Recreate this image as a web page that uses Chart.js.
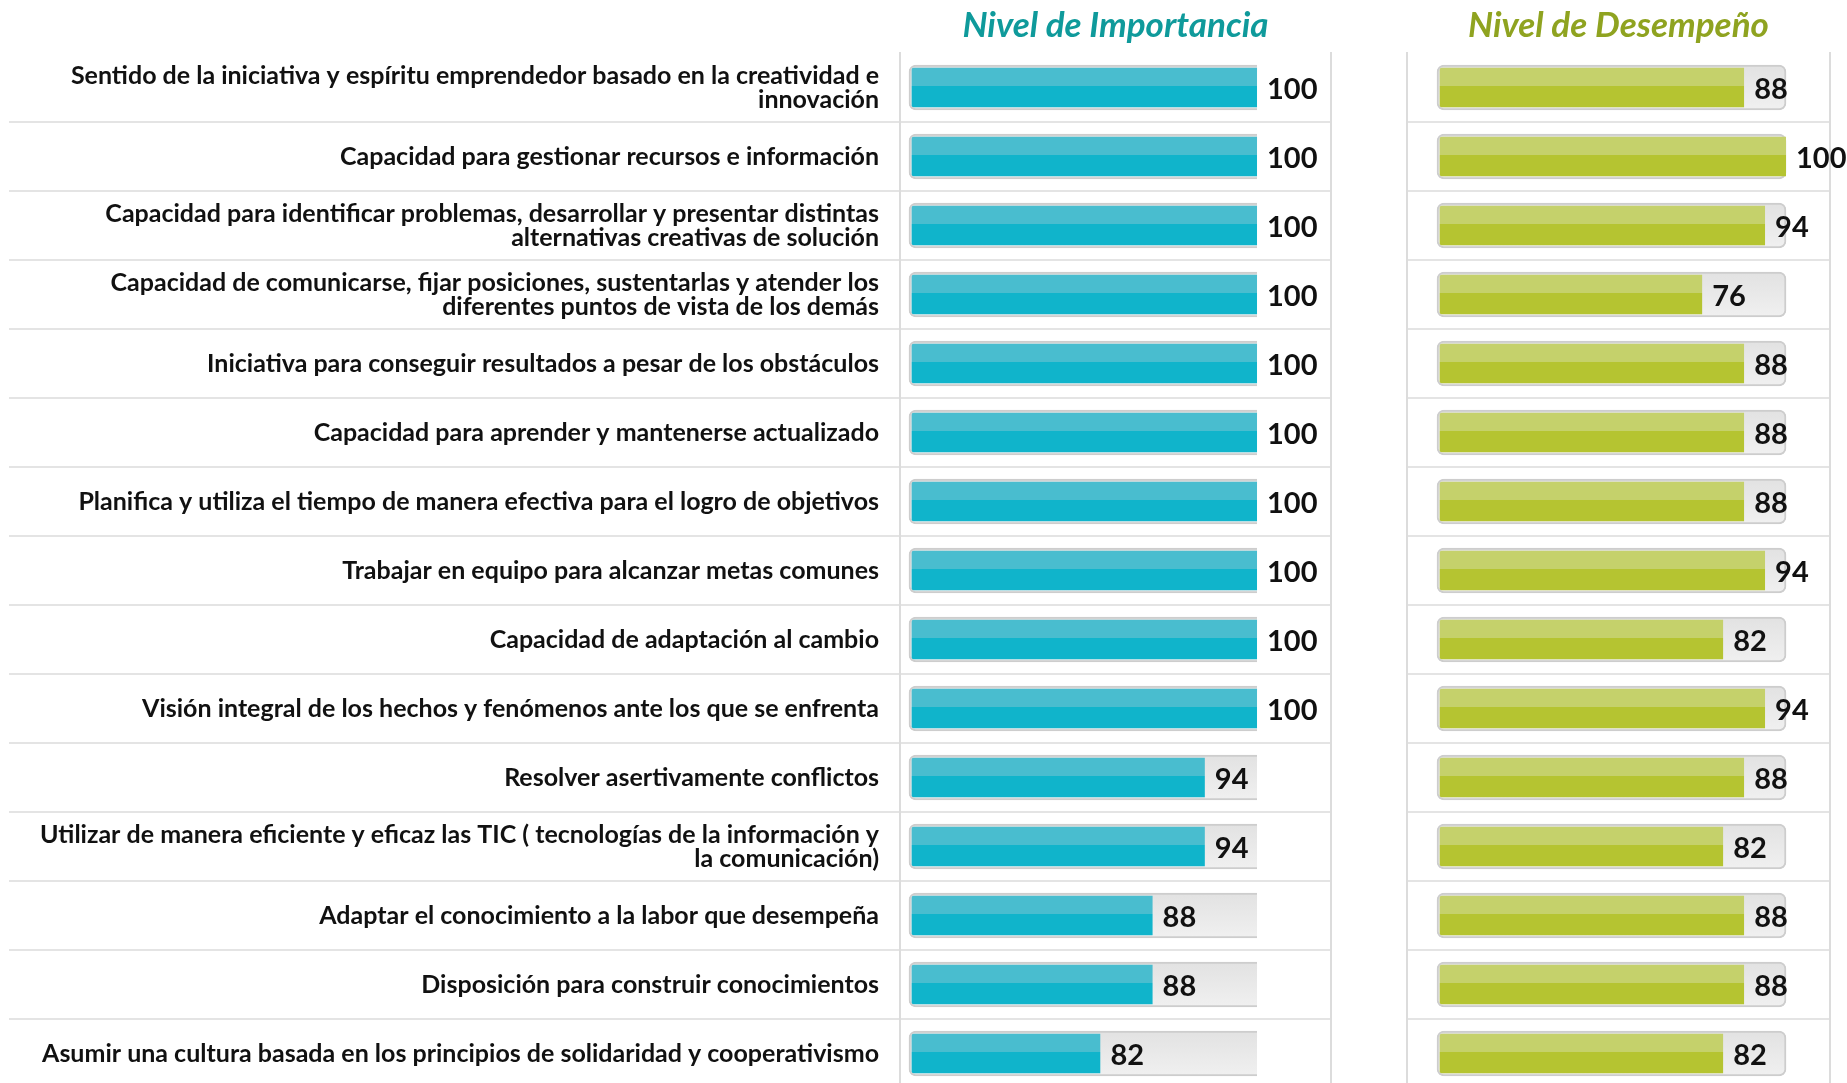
<!DOCTYPE html>
<html lang="es">
<head>
<meta charset="utf-8">
<title>Nivel de Importancia / Nivel de Desempeño</title>
<script src="https://cdn.jsdelivr.net/npm/chart.js@4.4.1/dist/chart.umd.min.js"></script>
<style>
    html, body {
        margin: 0;
        padding: 0;
        background: #ffffff;
        overflow: hidden;
    }
    .wrap {
        position: relative;
        width: 1847px;
        height: 1088px;
    }
    #importance-chart {
        position: absolute;
        left: 0;
        top: 0;
    }
    #performance-chart {
        position: absolute;
        left: 1335px;
        top: 0;
    }
</style>
</head>
<body>
<div class="wrap">
    <canvas id="importance-chart" width="1340" height="1088"></canvas>
    <canvas id="performance-chart" width="512" height="1088"></canvas>
</div>
<script>
const competencias = [
    ['Sentido de la iniciativa y espíritu emprendedor basado en la creatividad e', 'innovación'],
    'Capacidad para gestionar recursos e información',
    ['Capacidad para identificar problemas, desarrollar y presentar distintas', 'alternativas creativas de solución'],
    ['Capacidad de comunicarse, fijar posiciones, sustentarlas y atender los', 'diferentes puntos de vista de los demás'],
    'Iniciativa para conseguir resultados a pesar de los obstáculos',
    'Capacidad para aprender y mantenerse actualizado',
    'Planifica y utiliza el tiempo de manera efectiva para el logro de objetivos',
    'Trabajar en equipo para alcanzar metas comunes',
    'Capacidad de adaptación al cambio',
    'Visión integral de los hechos y fenómenos ante los que se enfrenta',
    'Resolver asertivamente conflictos',
    ['Utilizar de manera eficiente y eficaz las TIC ( tecnologías de la información y', 'la comunicación)'],
    'Adaptar el conocimiento a la labor que desempeña',
    'Disposición para construir conocimientos',
    'Asumir una cultura basada en los principios de solidaridad y cooperativismo'
];

const importancia = [100, 100, 100, 100, 100, 100, 100, 100, 100, 100, 94, 94, 88, 88, 82];
const desempeno = [88, 100, 94, 76, 88, 88, 88, 94, 82, 94, 88, 82, 88, 88, 82];
const escalaMaxima = 100;

const GRID = '#e4e4e4';
const BORDER = '#dcdcdc';

function rowCenter(context) {
    const scale = context.chart.scales.y;
    if (!scale || context.dataIndex === undefined) {
        return null;
    }
    const yc = scale.getPixelForValue(context.dataIndex);
    return Number.isFinite(yc) ? yc : null;
}

// two tone fill: lighter upper band, darker lower band
function twoTone(light, dark) {
    return function(context) {
        const yc = rowCenter(context);
        if (yc === null) {
            return dark;
        }
        const g = context.chart.ctx.createLinearGradient(0, yc - 20, 0, yc + 20);
        g.addColorStop(0, light);
        g.addColorStop(0.46, light);
        g.addColorStop(0.46, dark);
        g.addColorStop(1, dark);
        return g;
    };
}

function trackFill(context) {
    const yc = rowCenter(context);
    if (yc === null) {
        return '#e8e8e8';
    }
    const g = context.chart.ctx.createLinearGradient(0, yc - 22, 0, yc + 22);
    g.addColorStop(0, '#e2e2e2');
    g.addColorStop(1, '#f0f0f0');
    return g;
}

function gridColor(context) {
    return context.index === 0 ? 'rgba(0,0,0,0)' : GRID;
}

// value printed right after the end of each bar
const valueLabels = {
    id: 'valueLabels',
    afterDatasetsDraw(chart) {
        const ctx = chart.ctx;
        const values = chart.data.datasets[0].data;
        ctx.save();
        ctx.font = 'bold 29px Lato';
        ctx.fillStyle = '#111111';
        ctx.textBaseline = 'middle';
        ctx.textAlign = 'left';
        chart.getDatasetMeta(0).data.forEach((bar, i) => {
            ctx.fillText(String(values[i]), bar.x + 10, bar.y + 2);
        });
        ctx.restore();
    }
};

function buildChart(canvasId, opts) {
    return new Chart(document.getElementById(canvasId), {
        type: 'bar',
        data: {
            labels: competencias,
            datasets: [
                {
                    data: opts.values,
                    base: opts.base,
                    barThickness: 45,
                    grouped: false,
                    order: 1,
                    backgroundColor: twoTone(opts.light, opts.dark),
                    borderColor: 'rgba(0,0,0,0)',
                    borderWidth: 3,
                    borderSkipped: 'right',
                    borderRadius: { topLeft: 5, bottomLeft: 5, topRight: 0, bottomRight: 0 }
                },
                {
                    data: competencias.map(() => escalaMaxima),
                    base: opts.base,
                    barThickness: 45,
                    grouped: false,
                    order: 2,
                    backgroundColor: trackFill,
                    borderColor: '#cdcdcd',
                    borderWidth: 2,
                    borderSkipped: opts.trackSkip,
                    borderRadius: opts.trackRadius
                }
            ]
        },
        options: {
            indexAxis: 'y',
            responsive: false,
            animation: false,
            events: [],
            layout: { padding: opts.padding },
            scales: {
                x: {
                    display: false,
                    min: opts.min,
                    max: opts.max
                },
                y: {
                    position: 'left',
                    afterFit: scale => { scale.width = opts.axisWidth; },
                    grid: {
                        offset: true,
                        color: gridColor,
                        lineWidth: 2,
                        drawTicks: opts.showLabels,
                        tickLength: opts.tickLength
                    },
                    border: { display: true, color: BORDER, width: 2 },
                    ticks: {
                        display: opts.showLabels,
                        autoSkip: false,
                        padding: opts.labelPadding,
                        color: '#111111',
                        font: { family: 'Lato', weight: 'bold', size: 25, lineHeight: 0.96 }
                    }
                },
                y2: {
                    type: 'category',
                    position: 'right',
                    afterFit: scale => { scale.width = 0; },
                    grid: { display: false, drawTicks: false },
                    border: { display: true, color: BORDER, width: 2 },
                    ticks: { display: false }
                }
            },
            plugins: {
                legend: { display: false },
                tooltip: { enabled: false },
                title: {
                    display: true,
                    text: opts.title,
                    fullSize: false,
                    color: opts.titleColor,
                    font: { family: 'Lato', size: 35, style: 'italic', weight: 'bold', lineHeight: 1.2 },
                    padding: { top: 5, bottom: 6 }
                }
            }
        },
        plugins: [valueLabels]
    });
}

window.addEventListener('load', function() {
    buildChart('importance-chart', {
        values: importancia,
        title: 'Nivel de Importancia',
        titleColor: '#0f9a9b',
        light: '#49bdcf',
        dark: '#10b4cb',
        base: 60,
        min: 58.97,
        max: 108.5,
        trackSkip: 'right',
        trackRadius: { topLeft: 7, bottomLeft: 7, topRight: 0, bottomRight: 0 },
        padding: { left: 0, right: 9, top: 0, bottom: 0 },
        axisWidth: 900,
        showLabels: true,
        tickLength: 891,
        labelPadding: -870
    });

    buildChart('performance-chart', {
        values: desempeno,
        title: 'Nivel de Desempeño',
        titleColor: '#8fa320',
        light: '#c5d16b',
        dark: '#b5c431',
        base: 0,
        min: -8.6,
        max: 112.6,
        trackSkip: false,
        trackRadius: 7,
        padding: { left: 72, right: 17, top: 0, bottom: 0 },
        axisWidth: 0,
        showLabels: false,
        tickLength: 0,
        labelPadding: 0
    });
});
</script>
</body>
</html>
